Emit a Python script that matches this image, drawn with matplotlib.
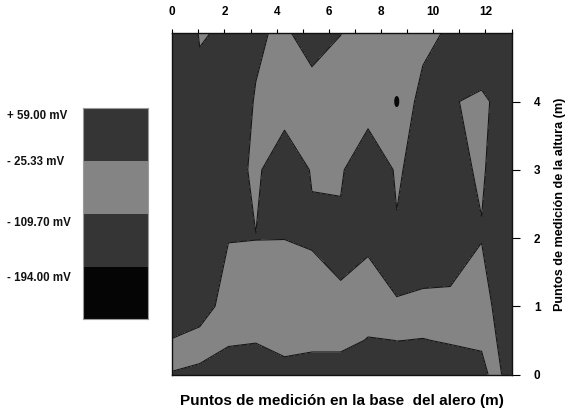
import matplotlib
matplotlib.use("Agg")
import matplotlib.pyplot as plt
import numpy as np
from matplotlib.colors import ListedColormap
from matplotlib.patches import Ellipse

plt.rcParams["font.family"] = ["Liberation Sans", "DejaVu Sans"]
plt.rcParams["font.weight"] = "bold"

# measuring grid along the eave base (m) and up the wall (m)
x_pos = [0.0, 1.05, 2.15, 3.2, 4.3, 5.35, 6.45, 7.5, 8.6, 9.6, 10.65, 11.85, 12.35, 13.0]
y_pos = [0.0, 0.5, 1.0, 2.0, 3.0, 4.0, 5.0]

# potential readings (mV), one list per height
mv_h00 = [-25.8, -39.4, -61.7, -71.3, -57.8, -73.8, -73.8, -75.3, -45.7, -75.3, -43.3, -67.8, 17.2, -85.3]
mv_h05 = [-20.8, 4.7, -17.3, -21.3, 4.7, -0.3, -0.3, -29.5, -24.9, -26.3, -22.9, -5.3, -17.5, -81.3]
mv_h10 = [-95.3, -70.3, 13.7, 14.7, 14.7, 37.7, -13.5, 12.2, -24.0, -9.9, -5.3, 14.7, -35.3, -80.3]
mv_h20 = [-95.3, -85.3, -28.3, -26.6, -26.2, -39.2, -44.6, -39.2, -33.4, -69.1, -74.3, -28.3, -75.3, -80.3]
mv_h30 = [-95.3, -85.3, -64.8, -8.8, -87.7, -18.8, -13.0, -105.3, -13.7, -62.0, -40.8, -18.9, -40.2, -80.3]
mv_h40 = [-95.3, -39.7, -82.3, -19.3, 19.9, 31.8, 14.7, 28.0, 14.7, -44.1, -31.5, -10.3, -34.5, -80.3]
mv_h50 = [-85.3, -21.7, -31.8, -40.0, -6.3, -80.2, -26.6, 16.9, 14.7, -8.6, -33.6, -98.3, -75.3, -85.3]

# contour classes (mV)
mv_levels = [-194.00, -109.70, -25.33, 59.00]

# isolated spot on the wall
spot_x = [8.6]
spot_y = [4.0]

c_black = "#050505"
c_dark = "#353535"
c_mid = "#848484"

z = np.array([mv_h00, mv_h05, mv_h10, mv_h20, mv_h30, mv_h40, mv_h50])

fig = plt.figure(figsize=(5.69, 4.13), dpi=100)
ax = fig.add_axes([0.3028, 0.0932, 0.5963, 0.8262])

cmap = ListedColormap([c_black, c_dark, c_mid])
cmap.set_over(c_dark)
ax.contourf(x_pos, y_pos, z, levels=mv_levels, cmap=cmap, extend="max")
ax.contour(x_pos, y_pos, z, levels=mv_levels, colors="#151515",
           linewidths=0.8, linestyles="solid")

for sx, sy in zip(spot_x, spot_y):
    ax.add_patch(Ellipse((sx, sy), 0.14, 0.14, color="#080808", zorder=3))

ax.set_xlim(0, 13)
ax.set_ylim(0, 5)

ax.xaxis.tick_top()
ax.set_xticks(range(0, 13, 2))
ax.set_xticks(range(1, 14, 2), minor=True)
ax.tick_params(axis="x", which="both", direction="out", length=3, width=0.8,
               labelsize=8.5, pad=8)
ax.yaxis.tick_right()
ax.set_yticks(range(0, 5))
ax.tick_params(axis="y", direction="out", length=6, width=0.8, labelsize=8.5, pad=10)

ax.set_xlabel("Puntos de medición en la base  del alero (m)", fontsize=11,
              fontweight="bold", labelpad=14)
ax.xaxis.set_label_position("bottom")
ax.set_ylabel("Puntos de medición de la altura (m)", fontsize=9.1,
              fontweight="bold", labelpad=10)
ax.yaxis.set_label_position("right")
for sp in ax.spines.values():
    sp.set_color("#111111")
    sp.set_linewidth(1.0)

# class legend: boxes top to bottom = over 59, 59..-25.33, -25.33..-109.7, below
leg = fig.add_axes([0.1464, 0.2269, 0.1132, 0.5109])
box_colors = [c_black, c_dark, c_mid, c_dark]
for i, c in enumerate(box_colors):
    leg.bar(0.5, 1, bottom=i, width=1, color=c, edgecolor="none")
leg.set_xlim(0, 1)
leg.set_ylim(0, 4)
leg.set_xticks([])
leg.set_yticks([])
for sp in leg.spines.values():
    sp.set_color("#9a9a9a")
    sp.set_linewidth(0.8)

label_rows = [0.78, 1.83, 2.98, 3.85]
for v, yy in zip(mv_levels, label_rows):
    sign = "+" if v > 0 else "-"
    leg.text(-1.18, yy, f"{sign} {abs(v):.2f} mV", fontsize=8.3, fontweight="bold",
             ha="left", va="center", color="#111111")

fig.savefig("out.png", dpi=100)
